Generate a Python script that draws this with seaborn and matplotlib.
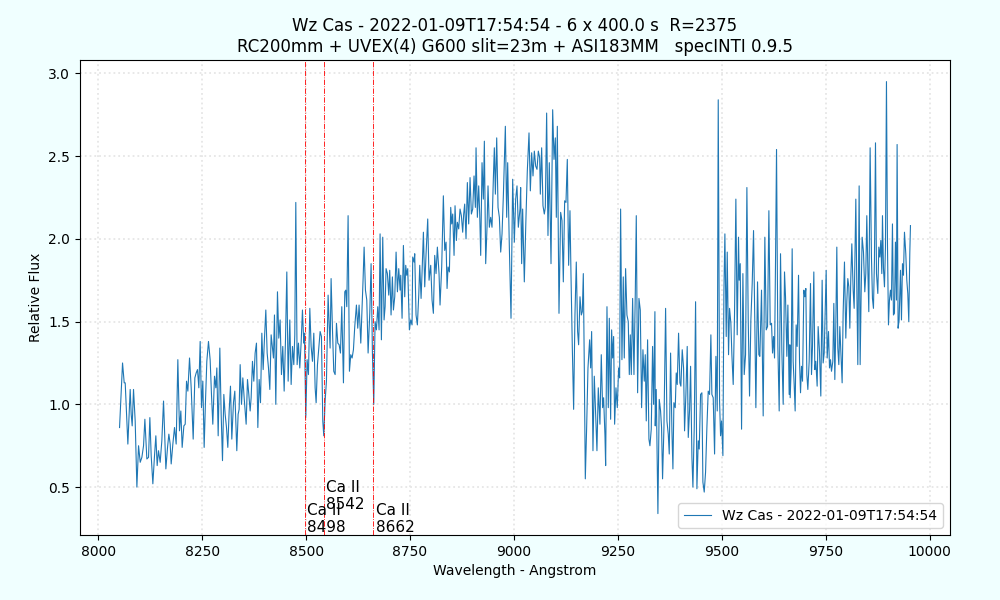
import numpy as np
import pandas as pd
import matplotlib
matplotlib.use("Agg")
import matplotlib.pyplot as plt
import seaborn as sns

# ==================== Chart text ====================
title = ("Wz Cas - 2022-01-09T17:54:54 - 6 x 400.0 s  R=2375\n"
         "RC200mm + UVEX(4) G600 slit=23m + ASI183MM   specINTI 0.9.5")
series_label = "Wz Cas - 2022-01-09T17:54:54"

# ==================== Spectrum (Angstrom / relative flux) ====================
wl_a = [8051.3, 8058.5, 8062.5, 8064.9, 8071.3, 8076.9, 8079.3, 8081.7, 8084.9, 8088.9,
        8093.0, 8097.0, 8101.0, 8105.0, 8109.0, 8112.2, 8117.0, 8121.0, 8124.2, 8127.4,
        8131.4, 8135.4, 8138.6, 8141.8, 8145.0, 8149.0, 8153.0, 8157.1, 8162.7, 8166.7,
        8169.9, 8173.1, 8175.5, 8179.5, 8183.5, 8187.5, 8191.5, 8195.5, 8198.7, 8201.9,
        8206.0, 8209.2, 8212.4, 8215.6, 8219.6, 8223.6, 8228.4, 8232.4, 8235.6, 8238.8,
        8242.0, 8245.2, 8248.4, 8251.6, 8254.8, 8258.0, 8261.2, 8265.2, 8269.2, 8272.4,
        8275.6, 8279.7, 8282.9, 8285.3, 8288.5, 8292.5, 8295.7, 8298.9, 8302.1, 8305.3,
        8308.5, 8311.7, 8314.9, 8318.1, 8321.3, 8325.3, 8328.5, 8333.3, 8336.5, 8338.9,
        8341.4, 8344.6, 8347.8, 8351.0, 8355.8, 8359.0, 8362.2, 8365.4]
flux_a = [0.86, 1.25, 1.13, 1.13, 0.76, 1.09, 0.94, 0.87, 1.09, 0.90,
          0.50, 0.75, 0.65, 0.68, 0.75, 0.91, 0.67, 0.68, 0.92, 0.69,
          0.52, 0.69, 0.81, 0.63, 0.72, 0.65, 0.78, 1.02, 0.61, 0.74,
          0.82, 0.76, 0.64, 0.76, 0.86, 0.76, 1.27, 0.84, 0.96, 0.74,
          0.87, 0.88, 1.14, 1.08, 1.28, 1.10, 0.79, 1.16, 1.19, 1.21,
          1.10, 1.38, 0.98, 1.14, 0.74, 1.02, 1.26, 1.38, 1.27, 1.06,
          0.88, 1.17, 1.10, 1.22, 0.81, 1.34, 0.94, 0.66, 1.06, 0.94,
          0.86, 0.74, 0.96, 1.11, 0.79, 1.01, 1.08, 0.72, 0.94, 0.97,
          1.24, 1.00, 1.16, 1.04, 0.88, 1.15, 1.06, 0.96]

wl_b = [8367.8, 8371.0, 8374.2, 8377.4, 8380.6, 8383.9, 8387.1, 8390.3, 8393.5, 8396.7,
        8399.9, 8403.1, 8406.3, 8409.5, 8412.7, 8415.9, 8419.1, 8421.5, 8423.9, 8427.1,
        8431.1, 8434.3, 8437.5, 8440.7, 8443.9, 8447.2, 8450.4, 8453.6, 8456.8, 8460.8,
        8464.0, 8467.2, 8470.4, 8472.8, 8475.2, 8478.4, 8481.6, 8484.8, 8488.0, 8491.2,
        8494.4, 8496.0, 8499.2, 8502.4, 8505.6, 8508.9, 8512.1, 8515.3, 8518.5, 8521.7,
        8524.1, 8527.3, 8530.5, 8533.7, 8536.9, 8540.1, 8542.5, 8545.7, 8548.9, 8552.9,
        8555.3, 8557.7, 8560.1, 8563.3, 8566.5, 8569.8, 8573.0, 8576.2, 8579.4, 8582.6,
        8585.8, 8589.8, 8593.0, 8595.4, 8597.8, 8601.0, 8604.2, 8607.4, 8610.6, 8613.8,
        8617.0, 8621.0, 8624.2, 8627.4, 8631.5, 8634.7, 8637.1, 8639.5, 8642.7, 8645.9,
        8649.1, 8653.1, 8656.3, 8659.5, 8662.7, 8665.9, 8669.1, 8672.3, 8675.5, 8677.9,
        8681.1, 8684.3, 8687.5, 8690.0]
flux_b = [1.04, 1.26, 1.14, 1.31, 1.37, 0.86, 1.15, 1.01, 1.43, 1.21,
          1.40, 1.57, 1.31, 1.22, 1.09, 1.42, 1.34, 1.28, 1.54, 1.00,
          1.68, 1.40, 1.51, 1.18, 1.35, 1.08, 1.39, 1.80, 1.14, 1.51,
          1.12, 1.35, 1.24, 1.42, 2.22, 1.24, 1.37, 1.22, 1.37, 1.57,
          1.37, 1.43, 0.92, 1.27, 1.18, 1.58, 1.35, 1.26, 1.43, 1.10,
          1.01, 1.24, 1.34, 1.44, 1.41, 0.90, 0.81, 1.02, 1.14, 1.66,
          1.49, 1.34, 1.76, 1.46, 1.20, 1.18, 1.49, 1.37, 1.36, 1.31,
          1.59, 1.13, 1.68, 1.69, 1.59, 2.14, 1.20, 1.30, 1.28, 1.33,
          1.47, 1.60, 1.46, 1.60, 1.37, 1.59, 1.76, 1.95, 1.69, 1.63,
          1.31, 1.55, 1.85, 1.31, 1.00, 1.50, 1.45, 1.59, 1.45, 2.03,
          1.39, 2.01, 1.51, 1.59]

wl_c = [8692.3, 8695.5, 8698.7, 8701.1, 8704.3, 8707.5, 8710.0, 8713.2, 8716.4, 8719.6,
        8722.8, 8726.0, 8727.6, 8730.8, 8734.0, 8737.2, 8739.6, 8742.0, 8744.4, 8748.4,
        8751.6, 8754.8, 8756.4, 8759.6, 8761.2, 8764.4, 8767.6, 8770.9, 8773.3, 8776.5,
        8778.9, 8782.1, 8785.3, 8788.5, 8792.5, 8795.7, 8799.7, 8802.9, 8806.1, 8809.3,
        8812.5, 8815.7, 8819.7, 8822.1, 8826.1, 8830.1, 8833.4, 8836.6, 8839.0, 8841.4,
        8844.6, 8847.8, 8850.2, 8852.6, 8855.8, 8858.2, 8861.4, 8863.8, 8867.0, 8870.2,
        8873.4, 8876.6, 8879.0, 8881.4, 8884.6, 8887.8, 8891.0, 8894.3, 8897.5, 8900.7,
        8903.9, 8907.1, 8908.7, 8911.9, 8915.1, 8917.5, 8919.9, 8923.1, 8926.3, 8928.7,
        8931.9, 8935.1, 8937.5, 8940.7, 8943.9, 8947.1, 8950.3, 8952.7, 8955.2, 8958.4,
        8961.6, 8964.8, 8968.0, 8971.2, 8974.4, 8979.2, 8982.4, 8984.8, 8988.8, 8992.8,
        8996.8, 9000.8, 9004.0, 9007.2, 9010.4, 9014.4]
flux_c = [1.82, 1.79, 1.66, 1.81, 1.54, 1.77, 1.57, 1.65, 1.92, 1.68,
          1.82, 1.69, 1.78, 1.52, 1.96, 1.65, 1.84, 1.78, 1.82, 1.45,
          1.51, 1.48, 1.89, 1.86, 1.91, 1.54, 1.48, 1.66, 1.84, 1.64,
          1.80, 2.04, 1.71, 1.91, 2.12, 1.75, 1.84, 1.63, 1.55, 1.90,
          1.79, 1.95, 1.79, 1.60, 1.83, 2.26, 1.93, 1.98, 1.70, 1.83,
          1.80, 2.19, 2.09, 2.15, 1.90, 2.20, 1.99, 2.10, 2.06, 2.18,
          2.14, 2.04, 2.15, 2.21, 2.00, 2.34, 2.09, 2.37, 2.15, 2.18,
          2.38, 2.19, 2.55, 2.13, 2.32, 2.15, 1.90, 2.46, 2.24, 2.59,
          1.85, 2.07, 2.32, 2.07, 2.13, 2.07, 2.36, 2.55, 2.27, 2.61,
          2.19, 2.13, 1.92, 2.03, 2.26, 2.68, 2.13, 2.46, 1.95, 1.52,
          2.36, 1.98, 2.24, 2.32, 2.07, 2.18]

wl_d = [9016.0, 9018.4, 9020.8, 9024.8, 9028.8, 9032.0, 9036.1, 9039.3, 9042.5, 9045.7,
        9048.9, 9052.1, 9055.3, 9058.5, 9061.7, 9063.3, 9066.5, 9069.7, 9072.9, 9075.3,
        9078.5, 9081.7, 9084.9, 9089.0, 9093.0, 9096.2, 9099.4, 9101.8, 9104.2, 9108.2,
        9112.2, 9115.4, 9118.6, 9121.8, 9125.0, 9128.2, 9131.4, 9134.6, 9137.0, 9140.2,
        9143.4, 9146.6, 9149.8, 9153.0, 9155.4, 9158.7, 9161.9, 9164.3, 9166.7, 9169.1,
        9171.5, 9174.7, 9177.9, 9181.9, 9184.3, 9186.7, 9189.9, 9193.1, 9196.3, 9199.5,
        9202.7, 9206.7, 9209.9, 9213.1, 9215.5, 9218.8, 9220.4, 9223.6, 9226.8, 9229.2,
        9232.4, 9234.8, 9237.2, 9239.6, 9242.0, 9245.2, 9248.4, 9251.6, 9254.0, 9256.4,
        9259.6, 9262.8, 9265.2, 9268.4, 9271.6, 9274.8, 9277.3, 9279.7, 9282.1, 9285.3,
        9288.5, 9291.7, 9294.1, 9297.3, 9300.5, 9303.7, 9306.9, 9310.1, 9313.3, 9315.7,
        9318.1, 9321.3, 9324.5, 9326.9, 9330.1, 9333.3, 9335.7, 9338.9]
flux_d = [2.31, 1.85, 2.18, 1.74, 2.13, 2.41, 2.64, 2.29, 2.52, 2.38,
          2.53, 2.44, 2.42, 2.53, 2.49, 2.27, 2.55, 2.20, 2.15, 2.19,
          2.76, 2.02, 2.46, 1.85, 2.78, 2.48, 2.61, 2.13, 2.68, 1.55,
          2.16, 2.11, 1.74, 2.23, 2.22, 2.48, 1.84, 2.17, 1.79, 1.35,
          0.97, 1.54, 1.86, 1.44, 1.36, 1.65, 1.54, 1.56, 1.79, 1.22,
          0.55, 0.86, 1.22, 1.39, 1.22, 1.44, 0.72, 1.17, 0.94, 0.72,
          1.10, 0.88, 1.30, 0.98, 1.04, 0.81, 0.63, 1.59, 0.98, 1.52,
          0.91, 1.45, 1.28, 1.41, 0.88, 1.10, 0.98, 1.22, 1.16, 2.18,
          1.27, 1.77, 1.28, 1.82, 1.54, 1.50, 1.18, 1.42, 1.18, 1.64,
          1.18, 1.67, 2.14, 1.07, 1.64, 1.57, 0.98, 1.33, 1.14, 1.30,
          0.90, 1.39, 0.79, 0.75, 0.85, 1.35, 1.00, 1.56]

wl_e = [9339.7, 9342.1, 9346.1, 9349.3, 9352.5, 9354.9, 9357.3, 9360.6, 9364.6, 9367.8,
        9371.0, 9373.4, 9376.6, 9379.8, 9382.2, 9384.6, 9387.8, 9390.2, 9392.6, 9395.8,
        9399.0, 9401.4, 9404.6, 9407.8, 9410.2, 9413.4, 9416.6, 9419.1, 9422.3, 9424.7,
        9427.9, 9430.3, 9433.5, 9436.7, 9439.9, 9443.1, 9445.5, 9448.7, 9451.9, 9454.3,
        9457.5, 9460.7, 9463.9, 9467.1, 9470.3, 9473.5, 9475.9, 9479.1, 9482.4, 9485.6,
        9488.8, 9491.2, 9494.4, 9496.8, 9499.2, 9502.4, 9504.8, 9507.2, 9510.4, 9512.8,
        9516.0, 9518.4, 9521.6, 9524.0, 9527.2, 9530.4, 9533.6, 9536.8, 9540.0, 9541.6,
        9544.1, 9547.3, 9550.5, 9553.7, 9556.9, 9560.1, 9563.3, 9566.5, 9569.7, 9572.9,
        9576.1, 9579.3, 9581.7, 9585.7, 9588.9, 9591.3, 9595.3, 9599.3, 9603.3, 9606.6,
        9609.8, 9613.0, 9616.2, 9619.4, 9621.8, 9624.2, 9626.6, 9629.0, 9631.4, 9634.6,
        9637.8, 9641.0, 9644.2, 9647.4, 9650.6, 9653.0, 9656.2, 9658.7, 9661.8, 9663.4]
flux_e = [0.87, 1.09, 0.34, 1.03, 0.96, 0.86, 0.55, 0.86, 1.58, 0.90,
          0.82, 0.70, 1.31, 0.84, 0.61, 1.01, 0.98, 1.19, 1.12, 1.43,
          1.13, 1.11, 1.33, 1.22, 0.84, 1.06, 1.35, 0.80, 0.97, 1.23,
          0.68, 0.50, 0.86, 1.62, 0.49, 0.78, 0.73, 1.06, 1.07, 0.53,
          0.47, 0.59, 0.86, 1.08, 1.06, 1.42, 1.06, 1.04, 0.70, 1.29,
          0.96, 2.84, 1.02, 0.81, 0.90, 0.69, 1.67, 2.03, 1.41, 1.92,
          1.30, 1.58, 1.49, 1.30, 1.12, 1.55, 2.24, 1.42, 2.01, 1.75,
          1.85, 0.85, 1.79, 1.18, 1.30, 2.31, 1.51, 1.05, 1.51, 1.73,
          2.05, 1.47, 0.98, 1.74, 1.30, 1.29, 1.69, 0.93, 2.01, 1.45,
          1.47, 2.17, 1.48, 1.49, 1.31, 1.41, 1.28, 1.87, 2.54, 1.35,
          0.96, 1.91, 1.32, 1.00, 1.80, 1.65, 1.29, 1.60, 1.06, 1.36]

wl_f = [9664.2, 9666.6, 9669.0, 9671.4, 9673.8, 9676.2, 9678.6, 9681.0, 9684.3, 9686.7,
        9689.1, 9691.5, 9693.9, 9697.1, 9699.5, 9701.9, 9704.3, 9706.7, 9709.9, 9713.1,
        9715.5, 9717.9, 9721.1, 9723.5, 9725.9, 9729.1, 9731.5, 9734.7, 9737.9, 9741.1,
        9743.5, 9746.0, 9748.4, 9750.8, 9753.2, 9756.4, 9758.8, 9761.2, 9763.6, 9766.8,
        9769.2, 9771.6, 9774.0, 9776.4, 9778.8, 9781.2, 9783.6, 9786.0, 9789.2, 9791.6,
        9794.8, 9798.0, 9800.4, 9802.8, 9805.3, 9807.7, 9810.1, 9812.5, 9815.7, 9818.1,
        9820.5, 9822.1, 9824.5, 9826.9, 9830.1, 9832.5, 9834.9, 9837.3, 9840.5, 9843.7,
        9846.1, 9848.5, 9850.9, 9853.3, 9856.5, 9859.7, 9862.1, 9864.5, 9866.9, 9869.4,
        9871.8, 9875.0, 9877.4, 9879.8, 9882.2, 9884.6, 9886.2, 9888.6, 9891.0, 9893.4,
        9895.8, 9898.2, 9900.6, 9903.0, 9905.4, 9907.8, 9910.2, 9912.6, 9915.0, 9917.4,
        9919.8, 9921.4, 9923.8, 9926.2, 9929.5, 9931.9, 9934.3, 9936.7, 9939.1, 9942.3,
        9944.7, 9947.1, 9949.5, 9951.9, 9953.5]
flux_f = [1.04, 1.22, 1.94, 1.26, 1.12, 0.96, 1.48, 1.35, 1.78, 1.26,
          1.07, 1.23, 1.14, 1.69, 1.65, 1.70, 1.18, 1.09, 1.26, 1.73,
          1.18, 1.35, 1.80, 1.21, 1.26, 1.11, 1.47, 1.32, 1.05, 1.75,
          1.25, 1.31, 1.55, 1.81, 1.28, 1.44, 1.22, 1.27, 1.20, 1.26,
          1.61, 1.15, 1.47, 1.95, 1.34, 1.24, 1.47, 1.32, 1.13, 1.55,
          1.86, 1.40, 1.62, 1.76, 1.71, 1.46, 1.77, 1.97, 1.69, 1.58,
          1.97, 2.24, 1.71, 1.24, 2.32, 1.24, 1.67, 2.01, 1.92, 1.68,
          1.79, 2.14, 1.83, 1.56, 2.55, 1.89, 1.64, 1.58, 1.87, 2.58,
          1.79, 1.67, 1.95, 1.89, 1.99, 1.79, 2.14, 1.82, 1.71, 1.95,
          2.95, 1.97, 1.48, 1.63, 1.69, 1.63, 2.09, 1.54, 1.55, 1.98,
          1.63, 2.57, 1.46, 1.51, 1.81, 1.51, 1.85, 1.78, 2.04, 1.91,
          1.75, 1.67, 1.50, 1.91, 2.08]

# Ca II triplet markers
ca_lines = [8498, 8542, 8662]
ca_labels = ["Ca II\n8498", "Ca II\n8542", "Ca II\n8662"]
ca_label_y = [0.21, 0.35, 0.21]

# ==================== Build frame ====================
df = pd.DataFrame({
    'Wavelength': np.concatenate([wl_a, wl_b, wl_c, wl_d, wl_e, wl_f]),
    'Flux': np.concatenate([flux_a, flux_b, flux_c, flux_d, flux_e, flux_f]),
})

# ==================== Plot ====================
fig, ax = plt.subplots(figsize=(10, 6), dpi=100, facecolor='azure')
fig.subplots_adjust(left=0.08, right=0.95, top=0.9, bottom=0.108)

sns.lineplot(data=df, x='Wavelength', y='Flux', sort=False, estimator=None,
             linewidth=0.8, color='#1f77b4', label=series_label, ax=ax)

for w, lab, ly in zip(ca_lines, ca_labels, ca_label_y):
    ax.axvline(w, color='red', linestyle='-.', linewidth=0.6)
    ax.text(w + 5, ly, lab, fontsize=11, ha='left', va='bottom')

ax.grid(True, linestyle=':', color='#e6e6e6', linewidth=1.3)
ax.set_title(title, fontsize=12)
ax.set_xlabel('Wavelength - Angstrom')
ax.set_ylabel('Relative Flux')
ax.legend(loc='lower right')

plt.savefig('out.png', dpi=100, facecolor=fig.get_facecolor())
